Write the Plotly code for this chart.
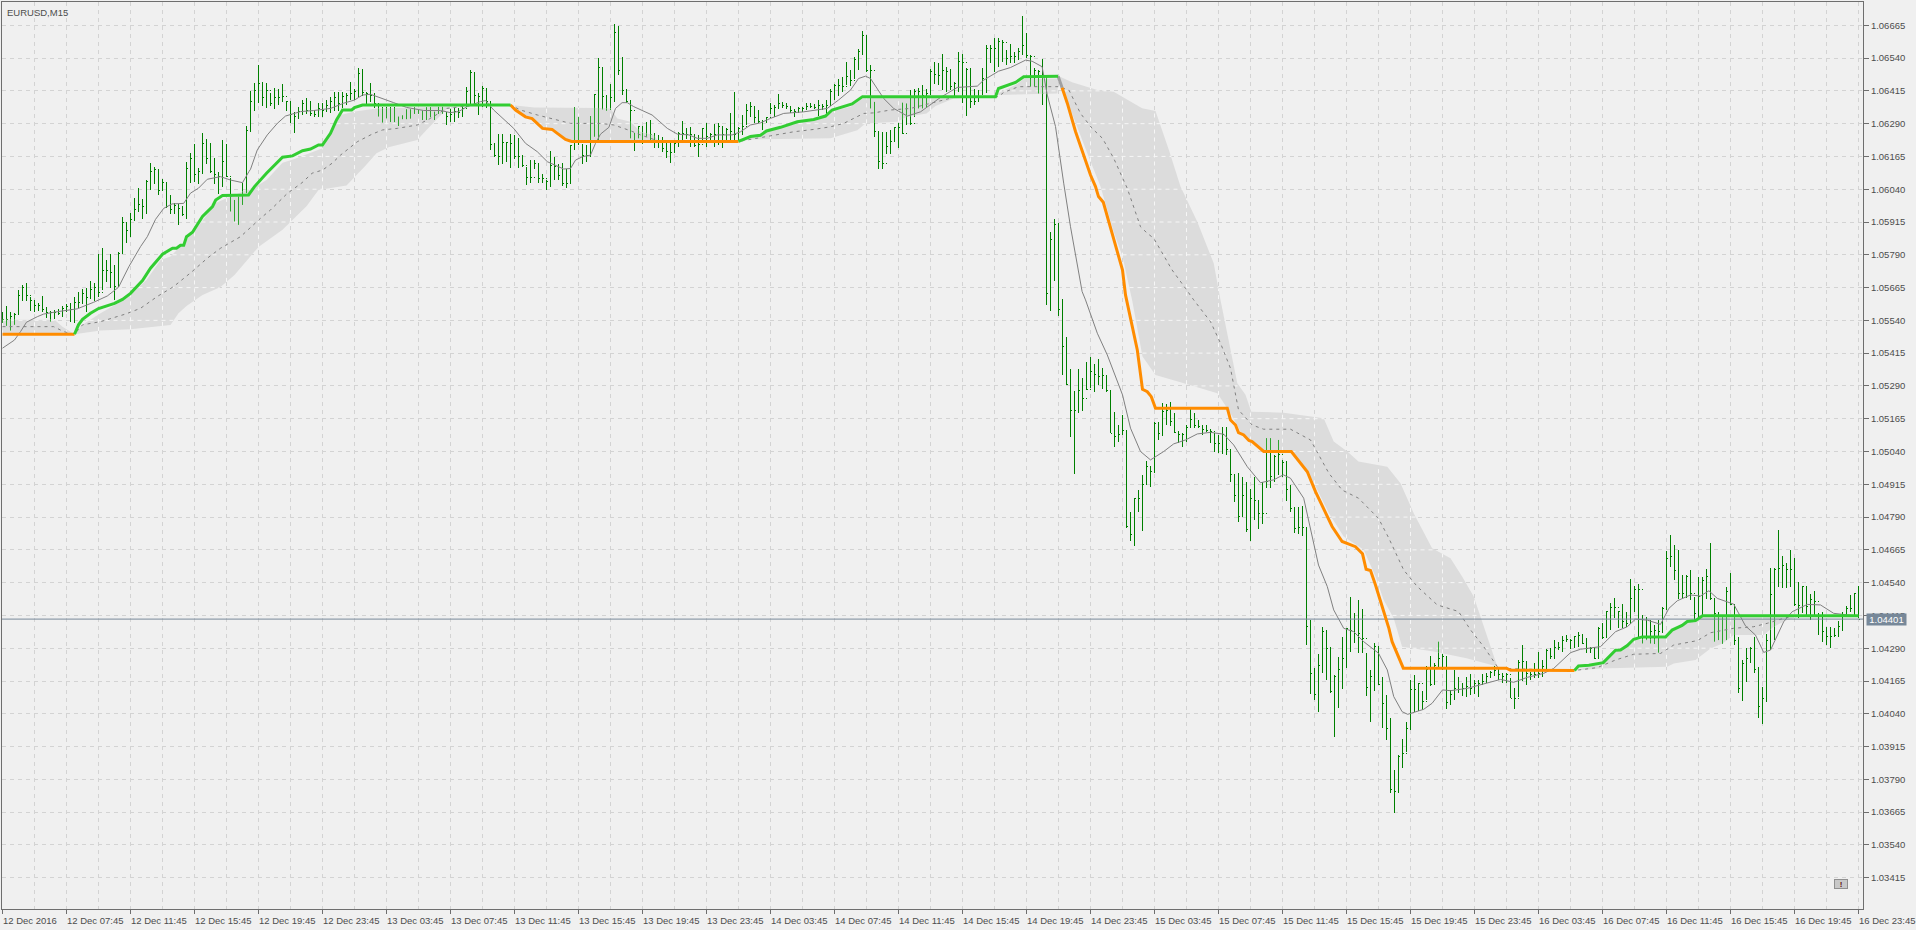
import numpy as np
import plotly.graph_objects as go

# All prices are stored as points above 1.00000 (6665 = 1.06665)
bar_index = list(range(465))
highs = [5570,5595,5571,5567,5656,5674,5681,5628,5618,5608,
5633,5592,5577,5580,5585,5595,5603,5605,5628,5647,
5659,5664,5690,5684,5793,5815,5770,5792,5751,5802,
5933,5913,5948,6006,6044,6002,6075,6139,6126,6119,
6079,6069,6018,5986,5984,5976,6145,6177,6213,6120,
6253,6231,6215,6158,6107,6228,6211,6082,5999,6012,
6063,6281,6416,6444,6514,6448,6444,6406,6425,6422,
6441,6376,6376,6336,6352,6380,6387,6376,6342,6368,
6368,6380,6390,6412,6412,6411,6406,6450,6421,6501,
6497,6412,6444,6406,6361,6355,6352,6355,6352,6317,
6322,6345,6345,6355,6342,6340,6355,6355,6336,6355,
6355,6336,6348,6348,6348,6357,6429,6495,6486,6408,
6434,6425,6374,6215,6249,6249,6221,6250,6247,6234,
6170,6126,6151,6151,6138,6098,6075,6185,6164,6138,
6141,6119,6208,6352,6316,6212,6208,6319,6403,6539,
6505,6399,6441,6670,6662,6545,6421,6380,6255,6282,
6281,6297,6304,6253,6247,6238,6227,6217,6215,6259,
6300,6272,6278,6247,6247,6272,6291,6253,6288,6291,
6278,6272,6332,6412,6278,6323,6365,6371,6354,6342,
6304,6316,6370,6361,6403,6373,6370,6357,6344,6352,
6354,6367,6367,6365,6382,6365,6380,6424,6441,6462,
6469,6526,6494,6543,6573,6644,6628,6513,6373,6263,
6259,6259,6265,6278,6293,6370,6367,6418,6421,6427,
6437,6424,6497,6526,6520,6555,6507,6497,6450,6562,
6554,6503,6504,6424,6418,6501,6589,6590,6617,6615,
6609,6570,6593,6564,6577,6700,6634,6551,6501,6494,
6536,6467,5878,5925,5910,5620,5478,5354,5272,5355,
5319,5380,5402,5374,5393,5357,5332,5275,5192,5141,
5180,5122,4811,4862,4894,4951,5004,4986,5154,5154,
5224,5221,5228,5188,5120,5110,5141,5201,5186,5160,
5141,5141,5125,5110,5103,5135,5135,5049,4951,4957,
4944,4925,4896,4944,4855,4925,5091,5091,5027,5084,
5008,5002,4913,4830,4830,4833,4754,4398,4214,4268,
4370,4360,4294,4188,4255,4334,4366,4487,4423,4474,
4438,4271,4207,4309,4296,4182,4112,4023,3826,3883,
3943,4010,4169,4188,4156,4125,4222,4261,4233,4315,
4268,4261,4131,4207,4182,4156,4182,4192,4169,4169,
4192,4197,4205,4222,4220,4194,4194,4175,4137,4245,
4302,4242,4200,4232,4274,4245,4286,4289,4321,4315,
4336,4340,4324,4336,4350,4344,4328,4296,4296,4369,
4385,4433,4464,4480,4433,4458,4429,4553,4527,4535,
4417,4408,4397,4378,4397,4448,4662,4722,4683,4664,
4569,4569,4588,4486,4560,4560,4592,4690,4480,4429,
4417,4522,4575,4455,4334,4245,4289,4296,4334,4219,
4143,4344,4594,4594,4741,4641,4614,4664,4633,4544,
4527,4527,4497,4509,4423,4429,4372,4372,4366,4395,
4429,4451,4493,4499,4527]
lows = [5530,5519,5501,5523,5561,5612,5612,5575,5572,5577,
5571,5548,5535,5544,5561,5552,5572,5535,5529,5586,
5603,5573,5623,5612,5628,5656,5688,5662,5618,5671,
5798,5834,5859,5919,5953,5928,5946,6037,6060,6018,
6037,5967,5946,5946,5905,5936,5925,6063,6069,6060,
6097,6136,6101,6060,6022,6047,6086,5955,5917,5904,
5980,6025,6259,6338,6368,6357,6348,6357,6345,6361,
6371,6338,6291,6256,6309,6323,6327,6319,6314,6314,
6314,6336,6329,6340,6340,6348,6361,6380,6380,6390,
6395,6361,6374,6348,6317,6294,6310,6296,6296,6281,
6307,6307,6309,6327,6327,6304,6304,6314,6304,6327,
6327,6285,6298,6298,6310,6317,6355,6365,6361,6323,
6352,6348,6190,6164,6132,6136,6145,6122,6154,6122,
6123,6056,6062,6119,6062,6062,6037,6049,6075,6075,
6053,6046,6062,6189,6208,6135,6145,6161,6240,6227,
6344,6339,6342,6374,6475,6399,6367,6234,6187,6234,
6212,6240,6227,6196,6196,6183,6158,6141,6183,6202,
6221,6230,6202,6202,6161,6215,6202,6221,6202,6208,
6199,6215,6217,6221,6227,6247,6285,6316,6293,6291,
6265,6293,6326,6314,6344,6348,6344,6329,6316,6329,
6335,6342,6348,6344,6319,6342,6323,6361,6382,6395,
6412,6437,6433,6459,6494,6551,6488,6348,6240,6118,
6118,6176,6176,6221,6196,6250,6285,6285,6314,6348,
6348,6352,6399,6443,6437,6418,6412,6418,6390,6412,
6370,6320,6351,6361,6373,6399,6405,6520,6488,6507,
6526,6513,6520,6520,6532,6551,6539,6431,6431,6405,
6361,5599,5577,5691,5558,5332,5294,5097,4955,5188,
5196,5275,5281,5265,5294,5277,5265,5110,5059,5078,
5103,4747,4697,4680,4811,4738,4913,4906,4957,5084,
5099,5141,5138,5110,5074,5056,5078,5129,5129,5129,
5103,5116,5071,5037,5033,5031,5027,4925,4847,4773,
4792,4735,4697,4777,4745,4764,4900,4900,4925,4951,
4944,4853,4811,4728,4724,4719,4303,4116,4093,4048,
4194,4169,4121,3953,4061,4133,4214,4277,4309,4273,
4271,4106,4010,4128,4150,3985,3940,3739,3661,3737,
3832,3896,3978,4048,4052,4055,4093,4146,4150,4214,
4207,4057,4074,4093,4121,4108,4105,4112,4114,4103,
4150,4156,4175,4184,4169,4158,4158,4099,4057,4105,
4165,4150,4169,4175,4175,4181,4207,4247,4247,4283,
4277,4315,4286,4289,4293,4306,4273,4270,4249,4251,
4325,4331,4359,4404,4366,4366,4369,4385,4429,4334,
4308,4321,4308,4306,4273,4349,4436,4601,4550,4476,
4480,4480,4474,4397,4397,4417,4476,4474,4315,4321,
4306,4321,4455,4302,4120,4090,4162,4232,4197,4023,
4001,4086,4283,4321,4522,4518,4518,4525,4451,4404,
4423,4417,4397,4417,4340,4315,4302,4289,4334,4334,
4357,4408,4429,4417,4404]
closes = [5545,5545,5554,5563,5633,5666,5634,5615,5595,5598,
5580,5570,5570,5571,5565,5586,5592,5582,5609,5609,
5643,5628,5659,5666,5647,5732,5730,5723,5669,5796,
5913,5881,5925,5961,5980,5974,6069,6107,6114,6037,
6065,5974,5961,5978,5965,5942,6120,6158,6095,6107,
6215,6156,6107,6095,6088,6145,6088,6012,5999,5999,
6012,6262,6374,6418,6444,6390,6418,6365,6390,6390,
6393,6374,6323,6319,6336,6368,6342,6327,6323,6348,
6342,6361,6374,6390,6368,6393,6399,6406,6412,6482,
6409,6406,6399,6368,6336,6319,6323,6336,6304,6310,
6317,6317,6329,6336,6336,6314,6342,6336,6327,6342,
6348,6319,6323,6336,6332,6348,6412,6484,6399,6393,
6425,6374,6209,6167,6164,6219,6219,6215,6166,6166,
6132,6085,6085,6138,6081,6081,6071,6132,6126,6094,
6062,6062,6205,6316,6272,6170,6170,6316,6403,6505,
6395,6344,6390,6638,6494,6418,6374,6342,6240,6278,
6247,6247,6247,6221,6221,6196,6183,6179,6215,6253,
6253,6247,6247,6208,6212,6272,6240,6247,6247,6278,
6247,6266,6259,6247,6272,6278,6342,6354,6314,6297,
6297,6314,6348,6352,6367,6361,6354,6342,6335,6348,
6348,6354,6354,6352,6361,6354,6361,6412,6437,6437,
6433,6469,6456,6535,6564,6628,6492,6494,6259,6145,
6138,6202,6221,6276,6276,6253,6329,6291,6412,6412,
6399,6405,6488,6479,6475,6494,6488,6431,6443,6526,
6523,6498,6373,6376,6392,6462,6577,6577,6577,6602,
6600,6539,6545,6545,6564,6587,6551,6545,6494,6488,
6405,5641,5847,5904,5580,5440,5296,5196,5196,5272,
5243,5277,5345,5332,5326,5328,5272,5110,5097,5103,
5120,4754,4724,4859,4862,4915,4982,4963,5148,5110,
5192,5195,5154,5112,5103,5103,5132,5163,5138,5135,
5122,5120,5116,5069,5069,5103,5046,4951,4874,4792,
4874,4741,4862,4855,4805,4805,4925,4944,5021,5027,
4999,4894,4824,4747,4750,4751,4372,4192,4114,4226,
4353,4290,4125,4182,4207,4252,4366,4356,4347,4347,
4328,4141,4184,4296,4150,4080,3985,3750,3743,3877,
3887,3985,4133,4133,4154,4086,4207,4150,4226,4252,
4258,4084,4112,4137,4131,4137,4144,4137,4156,4156,
4163,4182,4197,4205,4188,4184,4188,4099,4099,4236,
4239,4194,4188,4188,4194,4219,4283,4260,4293,4293,
4319,4324,4321,4334,4340,4308,4289,4289,4251,4366,
4331,4429,4446,4446,4429,4391,4385,4480,4512,4512,
4334,4336,4353,4357,4353,4442,4633,4639,4588,4499,
4499,4565,4497,4423,4486,4550,4565,4480,4423,4353,
4353,4505,4455,4321,4137,4232,4251,4289,4207,4067,
4099,4321,4493,4591,4594,4607,4591,4591,4455,4451,
4525,4448,4474,4467,4410,4353,4334,4334,4340,4372,
4417,4442,4442,4497,4401]
opens = [5545,5545,5545,5554,5563,5633,5666,5634,5615,5595,
5598,5580,5570,5570,5571,5565,5586,5592,5582,5609,
5609,5643,5628,5659,5666,5647,5732,5730,5723,5669,
5796,5913,5881,5925,5961,5980,5974,6069,6107,6114,
6037,6065,5974,5961,5978,5965,5942,6120,6158,6095,
6107,6215,6156,6107,6095,6088,6145,6088,6012,5999,
5999,6012,6262,6374,6418,6444,6390,6418,6365,6390,
6390,6393,6374,6323,6319,6336,6368,6342,6327,6323,
6348,6342,6361,6374,6390,6368,6393,6399,6406,6412,
6482,6409,6406,6399,6368,6336,6319,6323,6336,6304,
6310,6317,6317,6329,6336,6336,6314,6342,6336,6327,
6342,6348,6319,6323,6336,6332,6348,6412,6484,6399,
6393,6425,6374,6209,6167,6164,6219,6219,6215,6166,
6166,6132,6085,6085,6138,6081,6081,6071,6132,6126,
6094,6062,6062,6205,6316,6272,6170,6170,6316,6403,
6505,6395,6344,6390,6638,6494,6418,6374,6342,6240,
6278,6247,6247,6247,6221,6221,6196,6183,6179,6215,
6253,6253,6247,6247,6208,6212,6272,6240,6247,6247,
6278,6247,6266,6259,6247,6272,6278,6342,6354,6314,
6297,6297,6314,6348,6352,6367,6361,6354,6342,6335,
6348,6348,6354,6354,6352,6361,6354,6361,6412,6437,
6437,6433,6469,6456,6535,6564,6628,6492,6494,6259,
6145,6138,6202,6221,6276,6276,6253,6329,6291,6412,
6412,6399,6405,6488,6479,6475,6494,6488,6431,6443,
6526,6523,6498,6373,6376,6392,6462,6577,6577,6577,
6602,6600,6539,6545,6545,6564,6587,6551,6545,6494,
6488,6405,5641,5847,5904,5580,5440,5296,5196,5196,
5272,5243,5277,5345,5332,5326,5328,5272,5110,5097,
5103,5120,4754,4724,4859,4862,4915,4982,4963,5148,
5110,5192,5195,5154,5112,5103,5103,5132,5163,5138,
5135,5122,5120,5116,5069,5069,5103,5046,4951,4874,
4792,4874,4741,4862,4855,4805,4805,4925,4944,5021,
5027,4999,4894,4824,4747,4750,4751,4372,4192,4114,
4226,4353,4290,4125,4182,4207,4252,4366,4356,4347,
4347,4328,4141,4184,4296,4150,4080,3985,3750,3743,
3877,3887,3985,4133,4133,4154,4086,4207,4150,4226,
4252,4258,4084,4112,4137,4131,4137,4144,4137,4156,
4156,4163,4182,4197,4205,4188,4184,4188,4099,4099,
4236,4239,4194,4188,4188,4194,4219,4283,4260,4293,
4293,4319,4324,4321,4334,4340,4308,4289,4289,4251,
4366,4331,4429,4446,4446,4429,4391,4385,4480,4512,
4512,4334,4336,4353,4357,4353,4442,4633,4639,4588,
4499,4499,4565,4497,4423,4486,4550,4565,4480,4423,
4353,4353,4505,4455,4321,4137,4232,4251,4289,4207,
4067,4099,4321,4493,4591,4594,4607,4591,4591,4455,
4451,4525,4448,4474,4467,4410,4353,4334,4334,4340,
4372,4417,4442,4442,4497]

ma_x = [0,3,4.5,6,8.7,10.3,13.7,18.7,22.8,26.2,29,31.6,34.5,36.2,38.25,40.3,42.4,45.3,47,49,51.2,54.5,57,60,61.6,62,63.7,66.2,68.7,70.75,74.5,77.8,82,85.3,88,90,92,94,97.8,101,105.3,109.5,112,114,116.2,119.5,120.75,122.8,124.5,127.8,130.75,133.7,136.2,140.3,142,143.25,145,147,148.25,149.5,151.6,153.25,154.9,156.2,157.8,162.4,166.2,168.7,171.6,173.7,176.2,178.7,182.4,184.5,187,189.5,192,195.3,200.3,206.2,209,212,214,215.75,217,219,220.3,222.8,226.2,229.5,232,234.5,238.7,243.7,245.3,249,252,255.75,257.4,259.9,261.2,263.25,265.3,267,269.9,270.75,273.7,276.2,280,282,284.5,287,290.3,292.8,295.75,298.7,302,305.3,307.8,311.2,314.5,317.8,320.2,322,325.3,327,329,331.2,332.8,335.3,337.8,340.3,344,346.2,347.8,349.9,351.3,355.3,357.4,360,362,366.2,369.5,374.5,377.8,381.2,385.3,387.8,392,394.5,399.5,403.25,406.2,408.25,411.2,414.5,416.6,418.7,422,424.5,426.6,428.7,432.8,435.75,438.25,440.3,442,445.3,447.4,451.2,454.5,457.8,461.2,464]
ma = [5434,5465,5497,5533,5554,5564,5573,5584,5609,5633,5666,5745,5821,5859,5925,5967,5984,5986,6025,6044,6078,6088,6075,6065,6107,6116,6190,6247,6291,6319,6336,6340,6348,6368,6380,6399,6402,6390,6370,6352,6340,6340,6332,6336,6355,6374,6378,6342,6319,6272,6215,6183,6145,6117,6119,6151,6164,6170,6215,6250,6276,6348,6370,6370,6355,6323,6272,6250,6247,6234,6234,6247,6247,6259,6285,6293,6310,6329,6335,6348,6380,6418,6462,6471,6462,6418,6386,6348,6319,6335,6361,6390,6428,6433,6456,6490,6504,6532,6528,6507,6399,6279,6063,5897,5650,5618,5491,5408,5256,5129,5040,5008,5040,5069,5084,5107,5113,5106,5065,4982,4921,4932,4951,4938,4862,4741,4607,4525,4436,4366,4353,4315,4271,4207,4106,4048,4038,4057,4080,4131,4128,4137,4150,4171,4160,4179,4194,4213,4273,4286,4296,4353,4372,4401,4397,4381,4442,4471,4493,4489,4509,4480,4458,4375,4340,4274,4283,4391,4429,4457,4455,4423,4417,4413]

mid_x = [0,12.8,15.3,18,20,24.5,30.75,34.5,38.7,42.8,47.4,51.2,54.5,59.5,64.5,67,71.2,74.9,77.4,80,82.4,84.5,88.7,92.4,95,98.7,103.7,107,111,118,127,129.5,133.7,137.8,142,149.5,152.8,157,159.5,162.8,164.5,184,187,192,197.8,202.8,207,210.3,215.3,217.8,222,227,232,237.8,249,250.3,254,260.3,264,266.6,269.5,272.4,275,277.8,281.2,284.5,286.2,287.8,292.4,295.75,297.8,302,304.5,307,309,312.4,315.3,322,327,331.6,334.9,339,344,346.6,350.3,353.7,358.7,364,367,370.3,373.7,375,393,398.7,403.25,407.8,414.5,417.8,423.7,427,432.8,437.8,441.2,445.3,447.8]
mid = [5516,5516,5497,5487,5523,5535,5564,5586,5631,5669,5726,5777,5815,5859,5929,5961,6024,6065,6101,6113,6139,6170,6221,6250,6266,6272,6285,6310,6348,6361,6361,6342,6323,6306,6291,6291,6285,6263,6247,6230,6222,6222,6230,6243,6259,6268,6278,6291,6329,6331,6342,6348,6367,6390,6393,6409,6431,6432,6431,6418,6329,6272,6234,6158,6043,5897,5872,5853,5732,5662,5618,5535,5453,5357,5199,5141,5125,5125,5084,4957,4893,4862,4785,4709,4588,4525,4455,4430,4360,4296,4220,4213,4205,4216,4245,4267,4270,4302,4319,4349,4366,4372,4385,4404,4414]

band_top_x = [0,13,15,18,20,24.5,31,36,39.5,42,46,49.5,53.3,55,64,66,70,72.8,80,83,84.5,88,93.6,127,133,149.5,152,153.7,157,159.5,162.8,164,184,187,195.3,202.8,207,212,215,220.3,237.8,248.25,250,253.25,255.3,263.7,264,267.4,273.7,277.8,281.6,284.9,288.25,291.6,294.5,298.7,302.8,304.5,308.7,310.75,312.2,320.3,330.3,332.8,336.2,339,346.2,349.5,352.8,357.4,362,364.9,367.8,369.9,373.7,393,399.5,403.25,407.8,415.75,417.4,421.2,424.5,448.7,464]
band_top = [5542,5542,5516,5487,5523,5567,5624,5694,5770,5783,5847,5910,5987,5999,6056,6075,6141,6154,6196,6279,6323,6336,6348,6361,6352,6350,6348,6310,6297,6259,6247,6222,6222,6237,6278,6304,6335,6354,6386,6390,6390,6399,6414,6437,6460,6462,6472,6448,6418,6412,6380,6349,6338,6190,6050,5916,5758,5618,5300,5256,5192,5188,5167,5078,5040,5002,4982,4919,4805,4671,4633,4563,4487,4391,4220,4205,4232,4277,4321,4327,4353,4385,4408,4408,4414]
band_low_x = [0,18,24.5,32,42,44,46,50,54.5,58,61,64,70,76,79,86,90.5,93.5,96.5,103.7,106,107.5,111,115,127,128.25,130.75,132.4,135,137.4,138.7,140.75,142.25,184,187,207,209.5,213.7,215.75,223.7,226.2,231,233.25,237.8,248.25,252,263.7,264,265.3,271.2,274.5,277.8,280,282.4,285,288.25,296.2,303.7,307,309.5,312.8,315.3,322,326.2,331.6,335.3,340.3,343.25,345.3,347.8,349.9,357.8,366,373.7,393,399.5,416.2,417.8,423.25,427,430,432.8,440.3,442.8,446,448.7,464]
band_low = [5487,5487,5501,5506,5522,5567,5595,5637,5667,5713,5768,5820,5885,5975,6037,6054,6126,6177,6200,6228,6266,6291,6345,6355,6361,6342,6316,6309,6272,6268,6253,6230,6222,6222,6230,6234,6246,6265,6291,6297,6316,6329,6357,6386,6399,6401,6405,6472,6412,6177,6050,5878,5783,5618,5402,5332,5296,5262,5186,5116,5071,5043,5043,4970,4805,4716,4665,4563,4474,4404,4296,4277,4252,4220,4205,4213,4219,4232,4245,4289,4308,4340,4340,4372,4397,4408,4414]

signal_up_x = [18,19,20,22,24,28,30,32,35,37,40,42.5,43.5,44.5,45.3,46,47.5,50,52.5,53.3,55,61.5,63,66,70,72.5,75,77,79,80,82,83.5,85,87.3,88,90,127,None,
184,187,189.5,191,194.5,198.7,202.8,205.75,207.4,210.75,212.4,215,248.25,249,250.3,253.25,255.3,263.9,None,
393,394,396.6,398.7,400.2,403.25,404.5,406.2,407.8,409.9,415.75,417.4,419.9,421.2,423.25,425,464]
signal_up = [5487,5523,5544,5567,5585,5605,5620,5643,5692,5739,5792,5815,5815,5826,5826,5859,5876,5936,5974,5999,6016,6018,6050,6101,6162,6167,6187,6193,6209,6209,6253,6304,6342,6342,6351,6361,6361,None,
6222,6241,6246,6262,6276,6297,6306,6319,6342,6358,6365,6393,6393,6424,6431,6447,6469,6471,None,
4205,4222,4225,4232,4235,4282,4283,4300,4324,4333,4333,4359,4377,4392,4395,4414,4414]
signal_down_x = [0,18,None,127,128.25,130.75,132.4,135,137.4,138.7,140.75,142.25,184,None,
264.9,266.2,268.25,269.9,272,273.25,274,275.2,277,278.7,280,280.75,282.4,283.7,285,286.2,287.2,288.25,306.2,307,308.25,309,310.3,311.6,312.4,315.3,322.2,324.5,326.2,328.25,331.6,332.4,334.9,336.2,338.25,340,340.9,342,343.25,345.3,346.6,347.4,348.7,350.2,376,377,393]
signal_down = [5487,5487,None,6361,6342,6316,6309,6272,6268,6253,6230,6222,6222,None,
6427,6368,6260,6183,6094,6050,6012,5990,5891,5808,5732,5637,5516,5427,5277,5268,5249,5205,5205,5160,5141,5112,5103,5082,5078,5040,5040,4995,4963,4887,4779,4754,4697,4690,4677,4650,4591,4586,4531,4430,4366,4315,4271,4214,4214,4206,4205]
signal_flip_x = [263.9,264.9]
signal_flip = [6471,6427]

last_price = 4401
price_ticks = [6665,6540,6415,6290,6165,6040,5915,5790,5665,5540,5415,5290,5165,5040,4915,4790,4665,4540,4415,4290,4165,4040,3915,3790,3665,3540,3415]
date_ticks = list(range(0, 465, 16))
date_labels = ["12 Dec 2016","12 Dec 07:45","12 Dec 11:45","12 Dec 15:45","12 Dec 19:45","12 Dec 23:45",
"13 Dec 03:45","13 Dec 07:45","13 Dec 11:45","13 Dec 15:45","13 Dec 19:45","13 Dec 23:45",
"14 Dec 03:45","14 Dec 07:45","14 Dec 11:45","14 Dec 15:45","14 Dec 19:45","14 Dec 23:45",
"15 Dec 03:45","15 Dec 07:45","15 Dec 11:45","15 Dec 15:45","15 Dec 19:45","15 Dec 23:45",
"16 Dec 03:45","16 Dec 07:45","16 Dec 11:45","16 Dec 15:45","16 Dec 19:45","16 Dec 23:45"]

BG = "#f0f0f0"; GRID = "#d3d3d3"; FRAME = "#6e6e6e"; TXT = "#4d4d4d"
FONT = "Liberation Sans"
DASH = "4px,4px"

def pr(values):
    return [None if v is None else 1 + v / 1e5 for v in values]

fig = go.Figure()

# shaded band
fig.add_trace(go.Scatter(x=band_top_x + band_low_x[::-1], y=pr(band_top + band_low[::-1]),
                         fill="toself", fillcolor="#dcdcdc", mode="lines", line=dict(width=0),
                         hoverinfo="skip", showlegend=False))

# grid lines turn white where they cross the band
fine = np.arange(0, 464.01, 0.25)
top_f = np.interp(fine, band_top_x, band_top)
low_f = np.interp(fine, band_low_x, band_low)
gx, gy = [], []
for t in price_ticks:
    inside = (low_f <= t) & (t <= top_f) & (top_f - low_f > 1)
    start = None
    for k, flag in enumerate(inside):
        if flag and start is None:
            start = k
        if start is not None and (not flag or k == len(inside) - 1):
            gx += [fine[start], fine[k], None]
            gy += [1 + t / 1e5, 1 + t / 1e5, None]
            start = None
for g in range(0, 465, 8):
    a, b = np.interp(g, band_low_x, band_low), np.interp(g, band_top_x, band_top)
    if b - a > 1:
        gx += [g, g, None]
        gy += [1 + a / 1e5, 1 + b / 1e5, None]
fig.add_trace(go.Scatter(x=gx, y=gy, mode="lines", line=dict(color="#f6f6f6", width=1, dash=DASH),
                         hoverinfo="skip", showlegend=False))

fig.add_trace(go.Ohlc(x=bar_index, open=pr(opens), high=pr(highs), low=pr(lows), close=pr(closes),
                      increasing=dict(line=dict(color="#008000", width=1)),
                      decreasing=dict(line=dict(color="#008000", width=1)),
                      tickwidth=0.25, hoverinfo="skip", showlegend=False))

# bar parts seen through the band are paler
lx, ly = [], []
for i in bar_index:
    a = max(lows[i], np.interp(i, band_low_x, band_low))
    b = min(highs[i], np.interp(i, band_top_x, band_top))
    if b > a:
        lx += [i, i, None]
        ly += [1 + a / 1e5, 1 + b / 1e5, None]
fig.add_trace(go.Scatter(x=lx, y=ly, mode="lines", line=dict(color="#2da62d", width=1),
                         hoverinfo="skip", showlegend=False))

fig.add_trace(go.Scatter(x=mid_x, y=pr(mid), mode="lines", line=dict(color="#808080", width=1, dash="3px,4px"),
                         hoverinfo="skip", showlegend=False))
fig.add_trace(go.Scatter(x=ma_x, y=pr(ma), mode="lines", line=dict(color="#808080", width=1),
                         hoverinfo="skip", showlegend=False))
fig.add_trace(go.Scatter(x=[-1, 466], y=pr([last_price, last_price]), mode="lines",
                         line=dict(color="#778899", width=1), hoverinfo="skip", showlegend=False))
fig.add_trace(go.Scatter(x=signal_flip_x, y=pr(signal_flip), mode="lines",
                         line=dict(color="#a0a0a0", width=3), hoverinfo="skip", showlegend=False))
fig.add_trace(go.Scatter(x=signal_down_x, y=pr(signal_down), mode="lines",
                         line=dict(color="#ff8c00", width=3), hoverinfo="skip", showlegend=False))
fig.add_trace(go.Scatter(x=signal_up_x, y=pr(signal_up), mode="lines",
                         line=dict(color="#32cd32", width=3), hoverinfo="skip", showlegend=False))

annotations = [dict(x=t, xref="x", y=0, yref="paper", text=lab, showarrow=False, xanchor="left", yanchor="top",
                    yshift=-4, xshift=-2, font=dict(family=FONT, size=9.5, color=TXT))
               for t, lab in zip(date_ticks, date_labels)]
annotations.append(dict(x=0, xref="paper", y=1, yref="paper", text="EURUSD,M15", showarrow=False, xanchor="left",
                        yanchor="top", xshift=3, yshift=-3, font=dict(family=FONT, size=9.5, color=TXT)))
annotations.append(dict(x=1, xref="paper", y=1 + last_price / 1e5, yref="y", text="1.04401", showarrow=False,
                        xanchor="left", yanchor="middle", xshift=3, bgcolor="#778899", borderpad=0,
                        width=39, height=11, font=dict(family=FONT, size=9.5, color="#ffffff")))
annotations.append(dict(x=459.5, xref="x", y=1.03415 - 0.00024, yref="y", text="<b>!</b>", showarrow=False,
                        bgcolor="#c8c8c8", bordercolor="#909090", borderwidth=1, borderpad=0, width=12, height=8,
                        font=dict(family=FONT, size=8, color="#601010")))

fig.update_layout(
    width=1916, height=930, margin=dict(l=2, r=53, t=2, b=21),
    paper_bgcolor=BG, plot_bgcolor=BG, showlegend=False, annotations=annotations,
    xaxis=dict(range=[-0.125, 465.125], rangeslider=dict(visible=False), tickmode="array",
               tickvals=date_ticks, showticklabels=False, ticks="outside", ticklen=4, tickcolor=FRAME,
               showgrid=True, gridcolor=GRID, griddash=DASH, gridwidth=1, zeroline=False,
               showline=True, linecolor=FRAME, linewidth=1, mirror=True,
               minor=dict(tickvals=list(range(8, 465, 16)), showgrid=True, gridcolor=GRID,
                          griddash=DASH, gridwidth=1, ticks="")),
    yaxis=dict(range=[1.032957, 1.067538], side="right", tickmode="array",
               tickvals=pr(price_ticks), ticktext=[f"{1 + t / 1e5:.5f}" for t in price_ticks],
               ticks="outside", ticklen=5, tickcolor=FRAME, tickfont=dict(family=FONT, size=9.5, color=TXT),
               showgrid=True, gridcolor=GRID, griddash=DASH, gridwidth=1, zeroline=False,
               showline=True, linecolor=FRAME, linewidth=1, mirror=True),
)

fig.write_html("out.html", config=dict(displayModeBar=False),
               post_script="document.body.style.margin='0';document.body.style.background='#f0f0f0';"
                           "document.querySelectorAll('.ohlc path').forEach(function(p){p.style.shapeRendering='crispEdges';});")
